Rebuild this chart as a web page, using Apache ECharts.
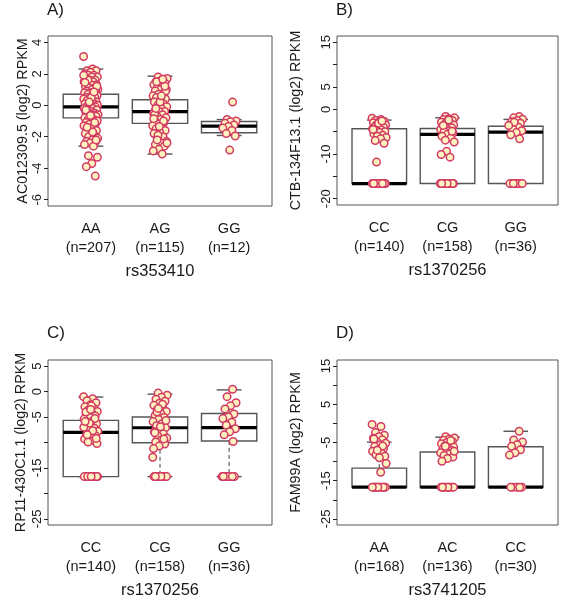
<!DOCTYPE html>
<html>
<head>
<meta charset="utf-8">
<script src="https://cdn.jsdelivr.net/npm/echarts@6/dist/echarts.min.js"></script>
<style>html,body{margin:0;padding:0;background:#fff;}#c{width:561px;height:600px;}</style>
</head>
<body>
<div id="c"></div>
<script>
// ---------- DATA ----------
// Panel A: rs353410 / AC012309.5
const catsA = ['AA', 'AG', 'GG'];
const nA = ['(n=207)', '(n=115)', '(n=12)'];
const boxA = [ // [low, q1, median, q3, high]
  [-2.6, -0.8, -0.1, 0.7, 2.3],
  [-3.1, -1.15, -0.4, 0.35, 1.85],
  [-1.92, -1.75, -1.33, -1.03, -0.91]
];
const ptsA_AA = [3.1, 2.3, 2.2, 2.2, 2.1, 2.0, 1.9, 1.9, 1.8, 1.8, 1.7, 1.6, 1.6, 1.5, 1.5, 1.4, 1.3, 1.3, 1.2, 1.1, 1.1, 1.0, 1.0, 0.9, 0.9, 0.8, 0.8, 0.7, 0.7, 0.6, 0.6, 0.5, 0.5, 0.4, 0.4, 0.3, 0.3, 0.2, 0.2, 0.1, 0.1, 0.0, 0.0, 0.0, -0.1, -0.1, -0.1, -0.2, -0.2, -0.3, -0.3, -0.4, -0.4, -0.5, -0.5, -0.6, -0.6, -0.7, -0.7, -0.8, -0.8, -0.9, -0.9, -1.0, -1.0, -1.1, -1.2, -1.2, -1.3, -1.4, -1.5, -1.6, -1.7, -1.8, -1.9, -2.0, -2.1, -2.2, -2.3, -2.3, -2.4, -2.5, -2.6, 1.6, 1.2, 0.5, -0.3, -1.1, 0.2, 1.9, -1.7, -1.4, -2.2, -0.65, 1.45, 0.85, -3.2, -3.3, -3.7, -3.9, -4.5];
const ptsA_AG = [1.8, 1.7, 1.6, 1.5, 1.4, 1.4, 1.3, 1.2, 1.1, 1.0, 1.0, 0.9, 0.8, 0.7, 0.6, 0.5, 0.5, 0.4, 0.3, 0.2, 0.1, 0.0, -0.1, -0.2, -0.3, -0.4, -0.4, -0.5, -0.6, -0.7, -0.8, -0.9, -1.0, -1.1, -1.2, -1.3, -1.4, -1.5, -1.6, -1.7, -1.8, -2.0, -2.1, -2.3, -2.4, -2.5, -2.6, -2.8, -2.9, -3.1, 1.5, 0.9, 0.2, -0.6, -1.0, -1.9, -2.4, 0.6, -0.2, 1.2, -1.35, -0.85, 1.65, -2.2];
const ptsA_GG = [0.2, -0.9, -1.0, -1.05, -1.15, -1.25, -1.35, -1.45, -1.6, -1.8, -1.95, -2.85];

// Panel B: rs1370256 / CTB-134F13.1
const catsB = ['CC', 'CG', 'GG'];
const nB = ['(n=140)', '(n=158)', '(n=36)'];
const boxB = [
  [-16.6, -16.6, -16.6, -4.35, -2.4],
  [-16.6, -16.6, -5.6, -4.3, -1.9],
  [-16.6, -16.6, -5.1, -3.8, -2.25]
];
const ptsB_CC = [-2.0, -2.3, -2.5, -2.7, -2.9, -3.0, -3.2, -3.4, -3.5, -3.7, -3.9, -4.0, -4.2, -4.4, -4.6, -4.8, -5.0, -5.2, -5.5, -5.8, -6.0, -6.3, -6.6, -7.0, -7.6, -3.1, -4.5, -2.6, -11.8, -16.6, -16.6, -16.6, -16.6, -16.6, -16.6, -16.6, -16.6, -16.6, -16.6, -16.6, -16.6];
const ptsB_CG = [-1.6, -1.9, -2.1, -2.3, -2.5, -2.7, -2.9, -3.1, -3.3, -3.5, -3.7, -3.9, -4.1, -4.3, -4.5, -4.8, -5.0, -5.3, -5.6, -6.0, -6.4, -6.9, -7.3, -2.4, -3.6, -4.9, -9.4, -10.1, -10.7, -16.6, -16.6, -16.6, -16.6, -16.6, -16.6, -16.6, -16.6, -16.6, -16.6, -16.6, -16.6];
const ptsB_GG = [-1.6, -1.9, -2.2, -2.5, -2.8, -3.1, -3.4, -3.7, -4.0, -4.4, -4.8, -5.2, -5.7, -6.6, -2.9, -3.6, -16.6, -16.6, -16.6, -16.6, -16.6, -16.6, -16.6, -16.6];

// Panel C: rs1370256 / RP11-430C1.1
const catsC = ['CC', 'CG', 'GG'];
const nC = ['(n=140)', '(n=158)', '(n=36)'];
const boxC = [
  [-16.7, -16.7, -8.0, -5.66, -1.07],
  [-16.7, -10.06, -7.1, -5.0, -0.5],
  [-16.7, -9.7, -7.07, -4.3, 0.33]
];
const ptsC_CC = [-1.0, -1.4, -1.8, -2.2, -2.6, -3.0, -3.3, -3.6, -3.9, -4.2, -4.5, -4.8, -5.1, -5.4, -5.7, -6.0, -6.3, -6.6, -6.9, -7.2, -7.5, -7.8, -8.1, -8.4, -8.7, -9.0, -9.3, -9.6, -9.9, -10.2, -2.8, -4.0, -5.3, -6.2, -7.0, -7.7, -8.5, -9.2, -3.5, -5.9, -16.7, -16.7, -16.7, -16.7, -16.7, -16.7, -16.7, -16.7, -16.7, -16.7, -16.7, -16.7];
const ptsC_CG = [-0.3, -0.7, -1.1, -1.5, -1.9, -2.3, -2.7, -3.1, -3.5, -3.9, -4.3, -4.7, -5.1, -5.5, -5.9, -6.3, -6.7, -7.1, -7.5, -7.9, -8.3, -8.7, -9.1, -9.5, -9.9, -10.3, -10.7, -11.2, -2.5, -4.0, -5.7, -6.9, -8.1, -9.3, -3.3, -12.9, -16.7, -16.7, -16.7, -16.7, -16.7, -16.7, -16.7, -16.7, -16.7, -16.7];
const ptsC_GG = [0.45, -1.0, -2.2, -2.8, -3.4, -4.4, -5.0, -5.3, -6.0, -6.6, -7.3, -7.9, -8.5, -9.8, -16.7, -16.7, -16.7, -16.7, -16.7, -16.7, -16.7, -16.7];

// Panel D: rs3741205 / FAM99A
const catsD = ['AA', 'AC', 'CC'];
const nD = ['(n=168)', '(n=136)', '(n=30)'];
const boxD = [
  [-16.7, -16.7, -16.7, -11.7, -4.9],
  [-16.7, -16.7, -16.7, -7.5, -3.6],
  [-16.7, -16.7, -16.7, -6.1, -2.06]
];
const ptsD_AA = [-0.27, -0.8, -2.4, -3.1, -3.5, -3.9, -4.3, -4.8, -5.2, -5.6, -6.0, -6.5, -6.9, -7.3, -7.8, -8.2, -8.6, -9.0, -4.1, -5.9, -7.0, -10.5, -12.8, -16.7, -16.7, -16.7, -16.7, -16.7, -16.7, -16.7, -16.7, -16.7, -16.7, -16.7, -16.7];
const ptsD_AC = [-3.5, -3.8, -4.1, -4.4, -4.7, -5.0, -5.3, -5.6, -5.9, -6.2, -6.5, -6.8, -7.1, -7.4, -7.7, -8.0, -8.4, -8.8, -9.2, -9.9, -4.5, -6.0, -7.3, -16.7, -16.7, -16.7, -16.7, -16.7, -16.7, -16.7, -16.7, -16.7, -16.7];
const ptsD_CC = [-2.06, -4.35, -4.9, -5.6, -6.0, -6.9, -7.7, -8.3, -16.7, -16.7, -16.7, -16.7, -16.7, -16.7];

// Axis ticks / labels
const ticksA = [-6, -4, -2, 0, 2, 4];
const labelsA = [-6, -4, -2, 0, 2, 4];
const ticksB = [-20, -15, -10, -5, 0, 5, 10, 15];
const labelsB = [-20, -10, 0, 5, 15];
const ticksC = [-25, -20, -15, -10, -5, 0, 5];
const labelsC = [-25, -15, -5, 0, 5];
const ticksD = [-25, -20, -15, -10, -5, 0, 5, 10, 15];
const labelsD = [-25, -15, -5, 5, 15];

const snps = ['rs353410', 'rs1370256', 'rs1370256', 'rs3741205'];
const genes = ['AC012309.5 (log2) RPKM', 'CTB-134F13.1 (log2) RPKM', 'RP11-430C1.1 (log2) RPKM', 'FAM99A (log2) RPKM'];
const panelLabels = ['A)', 'B)', 'C)', 'D)'];

// ---------- BUILD ----------
const FONT = '"Liberation Sans", Arial, Helvetica, sans-serif';
const TXT = '#1a1a1a';
const panels = [
  {cats: catsA, ns: nA, box: boxA, pts: [ptsA_AA, ptsA_AG, ptsA_GG], ticks: ticksA, labels: labelsA, ymin: -6.4, ymax: 4.4,
   grid: {left: 48, top: 36, width: 224, height: 170}, nameGap: 18, lab: {left: 47, top: 2}},
  {cats: catsB, ns: nB, box: boxB, pts: [ptsB_CC, ptsB_CG, ptsB_GG], ticks: ticksB, labels: labelsB, ymin: -21.4, ymax: 16.4,
   grid: {left: 337, top: 36, width: 221, height: 169}, nameGap: 34, lab: {left: 336, top: 2}},
  {cats: catsC, ns: nC, box: boxC, pts: [ptsC_CC, ptsC_CG, ptsC_GG], ticks: ticksC, labels: labelsC, ymin: -26.2, ymax: 6.2,
   grid: {left: 48, top: 360, width: 224, height: 169}, nameGap: 20, lab: {left: 47, top: 325}},
  {cats: catsD, ns: nD, box: boxD, pts: [ptsD_AA, ptsD_AC, ptsD_CC], ticks: ticksD, labels: labelsD, ymin: -26.6, ymax: 16.6,
   grid: {left: 337, top: 360, width: 221, height: 169}, nameGap: 34, lab: {left: 336, top: 325}}
];

const grids = [], xAxes = [], yAxes = [], series = [], titles = [];
const BOX_HW = 0.4, CAP_HW = 0.18, JIT = 0.105;

panels.forEach((p, k) => {
  grids.push(Object.assign({show: true, borderColor: '#555', borderWidth: 1, backgroundColor: 'transparent', containLabel: false}, p.grid));
  xAxes.push({
    gridIndex: k, type: 'value', min: 0.38, max: 3.62,
    axisLine: {show: false}, axisTick: {show: false}, splitLine: {show: false},
    axisLabel: {
      customValues: [1, 2, 3], margin: 13, color: TXT, fontFamily: FONT, fontSize: 14.5, lineHeight: 19,
      formatter: v => p.cats[Math.round(v) - 1] + '\n' + p.ns[Math.round(v) - 1]
    },
    name: snps[k], nameLocation: 'middle', nameGap: 57,
    nameTextStyle: {color: TXT, fontFamily: FONT, fontSize: 16.5}
  });
  yAxes.push({
    gridIndex: k, type: 'value', min: p.ymin, max: p.ymax,
    splitLine: {show: false},
    axisLine: {show: false},
    axisTick: {show: true, customValues: p.ticks, length: 4, inside: false, lineStyle: {color: '#222', width: 1}},
    axisLabel: {customValues: p.labels, rotate: 90, margin: 4, color: TXT, fontFamily: FONT, fontSize: 13},
    name: genes[k], nameLocation: 'middle', nameRotate: 90, nameGap: p.nameGap,
    nameTextStyle: {color: TXT, fontFamily: FONT, fontSize: 14.3}
  });
  titles.push({text: panelLabels[k], left: p.lab.left, top: p.lab.top, padding: 0,
    textStyle: {color: TXT, fontFamily: FONT, fontSize: 17, fontWeight: 'normal'}});

  // Boxes
  series.push({
    type: 'custom', xAxisIndex: k, yAxisIndex: k, z: 2,
    data: p.box.map((b, i) => [i + 1].concat(b)),
    encode: {x: 0, y: [1, 2, 3, 4, 5]},
    renderItem: function (params, api) {
      const x = api.value(0), lo = api.value(1), q1 = api.value(2), md = api.value(3), q3 = api.value(4), hi = api.value(5);
      const c = (a, b) => api.coord([a, b]);
      const ln = (a, b, st) => ({type: 'line', shape: {x1: a[0], y1: a[1], x2: b[0], y2: b[1]}, style: st});
      const dash = {stroke: '#444', lineWidth: 1, lineDash: [4, 3]};
      const solid = {stroke: '#555', lineWidth: 1.4};
      const tl = c(x - BOX_HW, q3), br = c(x + BOX_HW, q1);
      return {type: 'group', children: [
        ln(c(x, q3), c(x, hi), dash),
        ln(c(x, q1), c(x, lo), dash),
        ln(c(x - CAP_HW, hi), c(x + CAP_HW, hi), solid),
        ln(c(x - CAP_HW, lo), c(x + CAP_HW, lo), solid),
        {type: 'rect', shape: {x: tl[0], y: tl[1], width: br[0] - tl[0], height: br[1] - tl[1]}, style: {fill: '#fff', stroke: '#555', lineWidth: 1.4}},
        ln(c(x - BOX_HW, md), c(x + BOX_HW, md), {stroke: '#000', lineWidth: 3.2})
      ]};
    }
  });

  // Jittered points (deterministic low-discrepancy horizontal offsets)
  const data = [];
  p.pts.forEach((arr, ci) => {
    arr.forEach((v, i) => {
      const off = (((i * 0.6180339887 + 0.37 * ci) % 1) - 0.5) * 2 * JIT;
      data.push([ci + 1 + off, v]);
    });
  });
  series.push({
    type: 'scatter', xAxisIndex: k, yAxisIndex: k, z: 5,
    symbol: 'circle', symbolSize: 7.5, data: data, silent: true,
    itemStyle: {color: '#fff2bf', borderColor: '#d23a63', borderWidth: 1.5, opacity: 1}
  });
});

const chart = echarts.init(document.getElementById('c'), null, {renderer: 'canvas'});
chart.setOption({
  animation: false, backgroundColor: '#fff',
  title: titles, grid: grids, xAxis: xAxes, yAxis: yAxes, series: series
});
</script>
</body>
</html>
